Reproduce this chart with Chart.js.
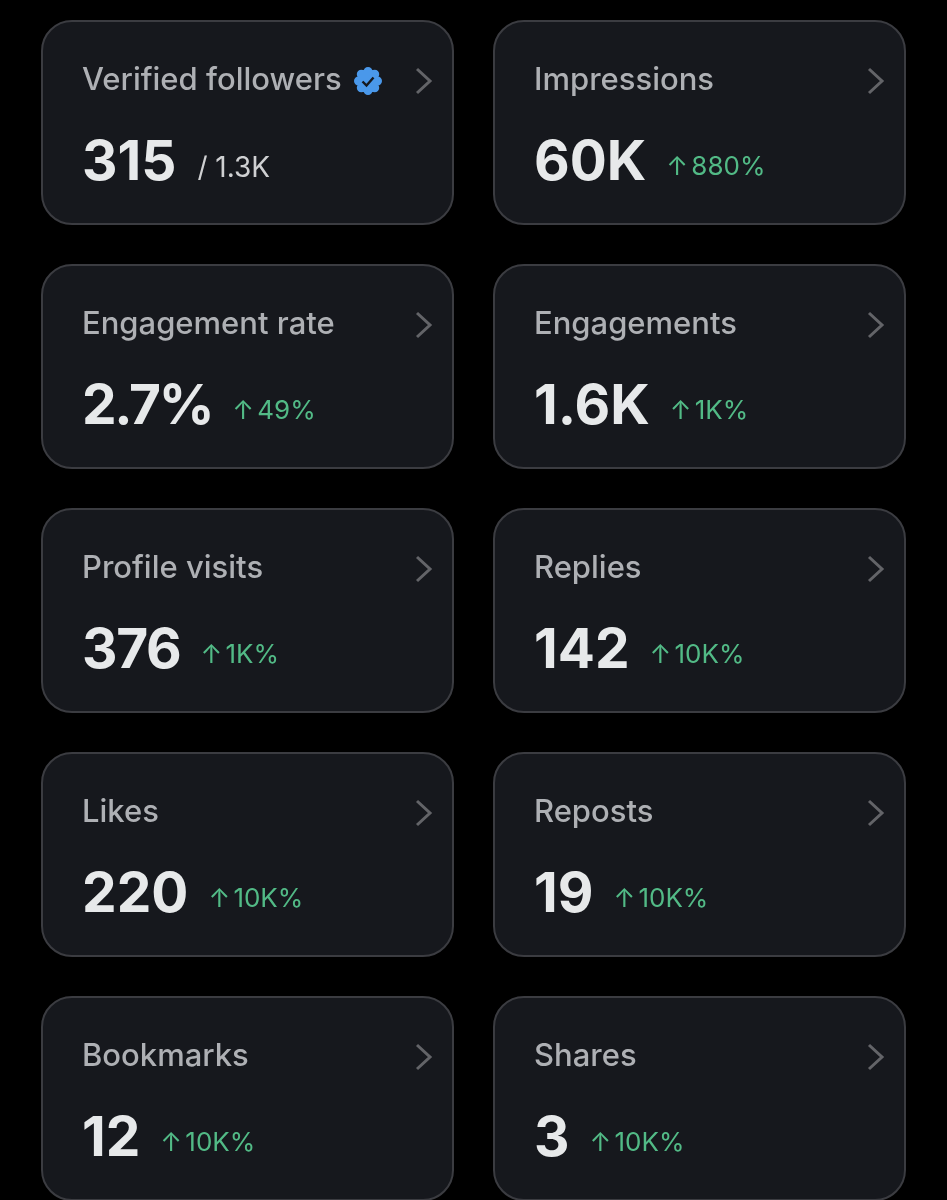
<!DOCTYPE html>
<html lang="en">
<head>
  <meta charset="UTF-8" />
  <title>Post analytics</title>
  <script src="https://cdn.jsdelivr.net/npm/chart.js"></script>
  <style>
    * { margin: 0; padding: 0; box-sizing: border-box; }
    body { background: #000; width: 947px; height: 1200px; overflow: hidden; }
    canvas { display: block; }
  </style>
</head>
<body>
  <canvas id="statsChart" width="947" height="1200"></canvas>
  <script>
    // card contents (left to right, top to bottom)
    const cardLabels = ['Verified followers', 'Impressions', 'Engagement rate', 'Engagements', 'Profile visits',
      'Replies', 'Likes', 'Reposts', 'Bookmarks', 'Shares'];
    const cardValues = ['315', '60K', '2.7%', '1.6K', '376', '142', '220', '19', '12', '3'];
    const cardChanges = ['/ 1.3K', '880%', '49%', '1K%', '1K%', '10K%', '10K%', '10K%', '10K%', '10K%'];
    const cardColumns = [0, 1, 0, 1, 0, 1, 0, 1, 0, 1];
    const cardRows = [0, 0, 1, 1, 2, 2, 3, 3, 4, 4];

    const FONT = 'Inter, "Liberation Sans", sans-serif';
    const CARD_W = 411, CARD_H = 203, CARD_R = 30;

    // Inter runs a bit wide on these two compared to the original font
    const tightValues = { '2.7%': '-2.3px', '376': '-1.3px' };

    function drawBadge(ctx, cx, cy) {
      ctx.fillStyle = '#4a98ea';
      ctx.beginPath();
      for (let a = 0; a < 8; a++) {
        const t = a * Math.PI / 4;
        ctx.moveTo(cx + Math.cos(t) * 9.5 + 4.5, cy + Math.sin(t) * 9.5);
        ctx.arc(cx + Math.cos(t) * 9.5, cy + Math.sin(t) * 9.5, 4.5, 0, Math.PI * 2);
      }
      ctx.moveTo(cx + 10, cy);
      ctx.arc(cx, cy, 10, 0, Math.PI * 2);
      ctx.fill();
      ctx.strokeStyle = '#16181d';
      ctx.lineWidth = 2.4;
      ctx.beginPath();
      ctx.moveTo(cx - 5.5, cy + 0.5);
      ctx.lineTo(cx - 1.5, cy + 4.5);
      ctx.lineTo(cx + 5.5, cy - 3.5);
      ctx.stroke();
    }

    // draws a card for every point of the dataset, at the point's scale position
    const cardPlugin = {
      id: 'cards',
      afterDatasetsDraw(chart) {
        const { ctx } = chart;
        const xScale = chart.scales.x, yScale = chart.scales.y;
        ctx.save();
        ctx.textBaseline = 'alphabetic';
        ctx.textAlign = 'left';
        chart.data.datasets[0].data.forEach((pt, i) => {
          const cx = xScale.getPixelForValue(pt.x), cy = yScale.getPixelForValue(pt.y);
          const left = cx - CARD_W / 2, top = cy - CARD_H / 2;

          ctx.beginPath();
          ctx.roundRect(left, top, CARD_W, CARD_H, CARD_R);
          ctx.fillStyle = '#16181d';
          ctx.fill();
          ctx.strokeStyle = '#3b3c41';
          ctx.lineWidth = 2;
          ctx.stroke();

          ctx.font = '500 31px ' + FONT;
          ctx.fillStyle = '#aeb0b4';
          ctx.fillText(cardLabels[i], left + 40, top + 69);
          if (i === 0) {
            drawBadge(ctx, left + 326, top + 60);
          }

          // chevron
          ctx.strokeStyle = '#636468';
          ctx.lineWidth = 3;
          ctx.beginPath();
          ctx.moveTo(left + 375, top + 48);
          ctx.lineTo(left + 388, top + 60);
          ctx.lineTo(left + 375, top + 72);
          ctx.stroke();

          ctx.font = '700 55px ' + FONT;
          ctx.fillStyle = '#e7e9ea';
          ctx.letterSpacing = tightValues[cardValues[i]] || '0px';
          ctx.fillText(cardValues[i], left + 40, top + 159);
          const after = left + 40 + ctx.measureText(cardValues[i]).width;
          ctx.letterSpacing = '0px';

          if (i === 0) {
            ctx.font = '400 28px ' + FONT;
            ctx.fillStyle = '#cfd0d2';
            ctx.fillText(cardChanges[i], after + 21, top + 156);
          } else {
            ctx.font = '400 26px ' + FONT;
            ctx.fillStyle = '#52ba86';
            ctx.fillText('↑', after + 20, top + 154);
            ctx.fillText(cardChanges[i], after + 45, top + 154);
          }
        });
        ctx.restore();
      }
    };

    new Chart(document.getElementById('statsChart').getContext('2d'), {
      type: 'scatter',
      data: {
        datasets: [{
          label: 'Cards',
          data: cardColumns.map((c, i) => ({ x: c, y: cardRows[i] })),
          pointRadius: 0
        }]
      },
      options: {
        responsive: false,
        animation: false,
        layout: { padding: 0 },
        plugins: { legend: { display: false }, tooltip: { enabled: false } },
        scales: {
          x: { type: 'linear', min: -0.5476, max: 1.5476, display: false },
          y: { type: 'linear', min: -0.502, max: 4.416, reverse: true, display: false }
        }
      },
      plugins: [cardPlugin]
    });
  </script>
</body>
</html>
